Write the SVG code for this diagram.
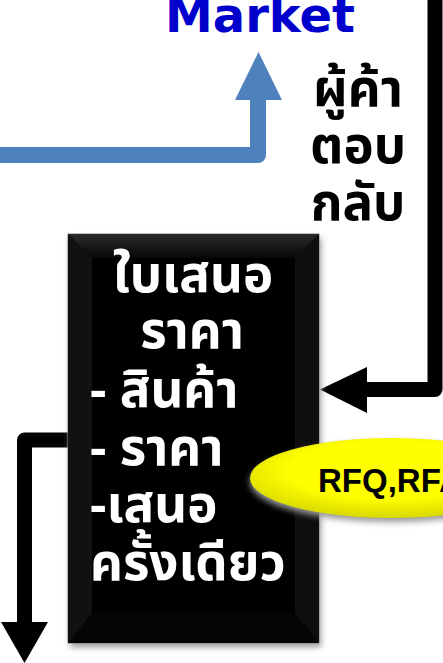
<svg xmlns="http://www.w3.org/2000/svg" width="443" height="663" viewBox="0 0 443 663">
<defs>
<style>
.th{font-family:Tahoma,"Noto Sans Thai","Noto Sans","DejaVu Sans",sans-serif;font-weight:bold;font-size:51px}
.w{fill:#fff}
.k{fill:#000}
.blk{fill:none;stroke:#000;stroke-width:15;stroke-linejoin:round}
</style>
<filter id="sh" x="-20%" y="-20%" width="140%" height="140%"><feGaussianBlur stdDeviation="3"/></filter>
<linearGradient id="tb" x1="0" y1="0" x2="0" y2="1"><stop offset="0" stop-color="#2a2a2a"/><stop offset="1" stop-color="#080808"/></linearGradient>
<radialGradient id="yg" cx="50%" cy="40%" r="60%"><stop offset="0.6" stop-color="#ffff00"/><stop offset="1" stop-color="#d8d800"/></radialGradient>
</defs>
<rect width="443" height="663" fill="#fff"/>
<g id="market"><text x="260" y="32" text-anchor="middle" font-family="'DejaVu Sans',sans-serif" font-weight="bold" font-size="48" fill="#0000cc">Market</text></g>
<g id="connectors">
<path d="M0 155 H258 V100" fill="none" stroke="#4f81bd" stroke-width="16" stroke-linejoin="round"/>
<polygon points="235,100 282,100 258.5,52" fill="#4f81bd"/>
<path d="M435 0 V389.5 H367" class="blk"/>
<polygon points="367,367 367,413 320,389.5" fill="#000"/>
<path d="M68 440 H24.5 V622" class="blk"/>
<polygon points="1,622 48,622 24.5,663" fill="#000"/>
</g>
<g id="reply"><text class="th k" text-anchor="middle"><tspan x="358" y="106">ผู้ค้า</tspan><tspan x="358" y="163">ตอบ</tspan><tspan x="358" y="220">กลับ</tspan></text></g>
<g id="quote">
<rect x="70" y="238" width="251" height="409" fill="#999" filter="url(#sh)"/>
<rect x="68" y="234" width="251" height="409" fill="#0a0a0a" stroke="#888" stroke-width="1"/>
<polygon points="68,234 319,234 295,258 92,258" fill="url(#tb)"/>
<polygon points="68,234 92,258 92,613 68,643" fill="#111"/>
<polygon points="319,234 295,258 295,613 319,643" fill="#0e0e0e"/>
<polygon points="68,643 319,643 295,613 92,613" fill="#050505"/>
<rect x="92" y="258" width="203" height="355" fill="#000"/>
<text class="th w"><tspan x="193" y="292" text-anchor="middle">ใบเสนอ</tspan><tspan x="192" y="348" text-anchor="middle">ราคา</tspan><tspan x="90" y="407">- สินค้า</tspan><tspan x="90" y="465">- ราคา</tspan><tspan x="90" y="522">-เสนอ</tspan><tspan x="90" y="580">ครั้งเดียว</tspan></text>
</g>
<g id="rfq">
<ellipse cx="392" cy="482" rx="142" ry="40" fill="#999" filter="url(#sh)"/>
<ellipse cx="391" cy="478" rx="141" ry="40" fill="url(#yg)"/>
<text x="318" y="492" font-family="'Liberation Sans',sans-serif" font-weight="bold" font-size="33" fill="#000">RFQ,RFA</text>
</g>
</svg>
